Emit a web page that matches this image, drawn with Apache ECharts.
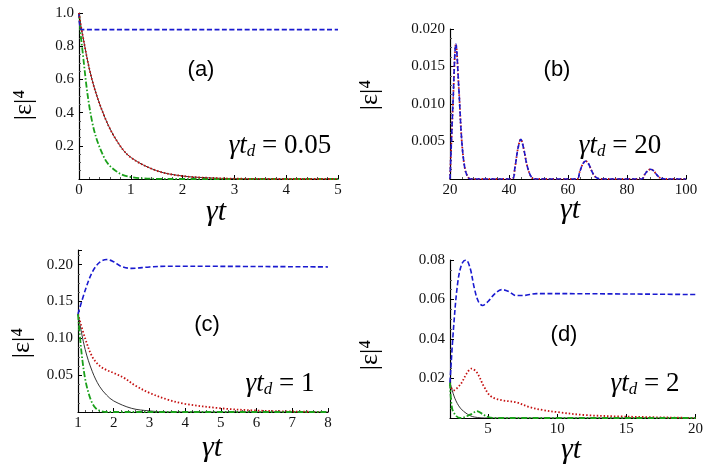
<!DOCTYPE html>
<html><head><meta charset="utf-8">
<script src="https://cdn.jsdelivr.net/npm/echarts@6/dist/echarts.min.js"></script>
<style>html,body{margin:0;background:#fff}#c{width:706px;height:470px}</style>
</head><body><div id="c"></div>
<script>
// panel (a) gamma t_d = 0.05
var aT = [0, 0.05, 0.25, 0.5, 0.75, 1, 1.5, 2, 2.5, 3, 4, 5];
var aBlack = [1, 0.9, 0.6, 0.37, 0.22, 0.13, 0.05, 0.018, 0.007, 0.002, 0, 0];
var aRed = aBlack;
var aGreen = [1, 0.82, 0.35, 0.12, 0.04, 0.012, 0.001, 0, 0, 0, 0, 0];
var aBlue = [1, 0.9, 0.9, 0.9, 0.9, 0.9, 0.9, 0.9, 0.9, 0.9, 0.9, 0.9];

// panel (b) gamma t_d = 20
var bT = [20, 21, 22, 23, 24, 25, 26, 27, 41, 42, 43, 44, 45, 46, 47, 48, 49, 63, 64, 65, 66, 67, 68, 69, 70, 71, 85, 86, 87, 88, 89, 90, 91, 92, 93, 100];
var bVal = [0, 0.01, 0.018, 0.012, 0.005, 0.0015, 0.0003, 0, 0, 0.0015, 0.004, 0.0053, 0.004, 0.002, 0.0007, 0.0001, 0, 0, 0.001, 0.002, 0.0024, 0.002, 0.0011, 0.0004, 0.0001, 0, 0, 0.0006, 0.0011, 0.0013, 0.0011, 0.0006, 0.0002, 0.00005, 0, 0];

// panel (c) gamma t_d = 1
var cBlueT = [1, 1.2, 1.4, 1.6, 1.8, 2, 2.2, 2.5, 3, 3.5, 8];
var cBlue = [0.133, 0.165, 0.19, 0.203, 0.207, 0.204, 0.198, 0.195, 0.197, 0.198, 0.197];
var cRedT = [1, 1.2, 1.4, 1.6, 1.8, 2, 2.3, 2.6, 3, 3.5, 4, 5, 6, 7, 8];
var cRed = [0.133, 0.1, 0.075, 0.063, 0.057, 0.053, 0.046, 0.036, 0.026, 0.017, 0.011, 0.005, 0.002, 0.0007, 0];
var cBlackT = [1, 1.2, 1.4, 1.6, 1.8, 2, 2.5, 3, 3.5, 8];
var cBlack = [0.133, 0.085, 0.055, 0.035, 0.023, 0.015, 0.005, 0.0015, 0, 0];
var cGreenT = [1, 1.1, 1.2, 1.3, 1.4, 1.5, 1.6, 1.8, 8];
var cGreen = [0.133, 0.08, 0.045, 0.025, 0.012, 0.005, 0.002, 0, 0];

// panel (d) gamma t_d = 2
var dBlueT = [2.25, 2.5, 2.8, 3.1, 3.4, 3.7, 4, 4.3, 4.6, 5, 5.5, 6, 6.5, 7, 7.5, 8.5, 20];
var dBlue = [0.018, 0.045, 0.068, 0.078, 0.08, 0.076, 0.066, 0.059, 0.057, 0.059, 0.063, 0.065, 0.064, 0.062, 0.062, 0.063, 0.0625];
var dRedT = [2.25, 2.5, 3, 3.5, 3.8, 4.2, 4.7, 5.2, 6, 7, 8, 9, 10, 12, 15, 20];
var dRed = [0.017, 0.014, 0.017, 0.023, 0.025, 0.023, 0.016, 0.011, 0.009, 0.008, 0.0055, 0.004, 0.003, 0.0015, 0.0007, 0];
var dBlackT = [2.25, 2.6, 3, 3.5, 4, 5, 20];
var dBlack = [0.018, 0.01, 0.005, 0.002, 0.0005, 0, 0];
var dGreenT = [2.25, 2.4, 2.7, 3, 3.8, 4.2, 4.6, 5, 5.5, 20];
var dGreen = [0.018, 0.005, 0.001, 0, 0.002, 0.0035, 0.002, 0.0005, 0, 0];

var chart = echarts.init(document.getElementById('c'));
var serif = 'Liberation Serif';

function zip(t, v) { return t.map(function (x, i) { return [x, v[i]]; }); }

var styles = {
  black: {color: '#000', width: 0.8, type: 'solid'},
  red: {color: '#c41010', width: 1.8, type: [1.5, 2]},
  green: {color: '#1aa01a', width: 1.8, type: [6, 2, 1.5, 2]},
  blue: {color: '#1a1ad0', width: 1.6, type: [5, 2.5]}
};

var grids = [
  {left: 79, right: 368, top: 13, bottom: 291},
  {left: 450, right: 20, top: 29, bottom: 291},
  {left: 78, right: 378, top: 250, bottom: 58},
  {left: 450, right: 10, top: 260, bottom: 52}
];

function xAx(i, min, max, interval, extra) {
  var ax = {
    type: 'value', gridIndex: i, min: min, max: max, interval: interval,
    axisLine: {lineStyle: {color: '#000', width: 1.2}},
    axisTick: {inside: true, length: 4, lineStyle: {color: '#000'}},
    minorTick: {show: true, splitNumber: 5, length: 2, lineStyle: {color: '#555'}},
    splitLine: {show: false},
    axisLabel: {color: '#111', fontFamily: serif, fontSize: 15, margin: 4}
  };
  return Object.assign(ax, extra || {});
}
function yAx(i, max, interval, dec) {
  return {
    type: 'value', gridIndex: i, min: 0, max: max, interval: interval,
    axisLine: {lineStyle: {color: '#000', width: 1.2}},
    axisTick: {inside: true, length: 4, lineStyle: {color: '#000'}},
    minorTick: {show: true, splitNumber: 4, length: 2, lineStyle: {color: '#555'}},
    splitLine: {show: false},
    axisLabel: {color: '#111', fontFamily: serif, fontSize: 15, margin: 5,
      formatter: function (v) {
        var k = v / interval;
        if (v === 0 || Math.abs(k - Math.round(k)) > 1e-6) return '';
        return v.toFixed(dec);
      }}
  };
}

function line(i, t, v, st, z) {
  return {
    type: 'line', xAxisIndex: i, yAxisIndex: i, data: zip(t, v), smooth: 0.35,
    showSymbol: false, silent: true, z: z || 2,
    lineStyle: {color: st.color, width: st.width, type: st.type}
  };
}

var series = [
  line(0, aT, aBlack, styles.black), line(0, aT, aRed, styles.red, 3),
  line(0, aT, aGreen, styles.green), line(0, aT, aBlue, styles.blue),
  line(1, bT, bVal, styles.red), line(1, bT, bVal, styles.blue, 3),
  line(2, cBlackT, cBlack, styles.black), line(2, cRedT, cRed, styles.red),
  line(2, cGreenT, cGreen, styles.green), line(2, cBlueT, cBlue, styles.blue),
  line(3, dBlackT, dBlack, styles.black), line(3, dRedT, dRed, styles.red),
  line(3, dGreenT, dGreen, styles.green), line(3, dBlueT, dBlue, styles.blue)
];

function txt(x, y, text, size, extra) {
  return Object.assign({type: 'text', x: x, y: y, style: Object.assign({
    text: text, fill: '#000', font: size + 'px "Liberation Sans"', align: 'center', verticalAlign: 'middle'
  }, extra || {})});
}
function ylab(x, y) {
  return {type: 'text', x: x, y: y, rotation: Math.PI / 2,
    style: {text: '|ε|⁴', fill: '#000', font: '26px "Liberation Serif"', align: 'center', verticalAlign: 'middle'}};
}
function xlab(x, y) {
  return txt(x, y, 'γt', 30, {font: 'italic 30px "Liberation Serif"'});
}
function td(x, y, val) {
  return {type: 'text', x: x, y: y, style: {
    text: '{i|γt}{s|d}{g| = ' + val + '}', align: 'center', verticalAlign: 'middle',
    rich: {
      i: {fontFamily: serif, fontSize: 27, fontStyle: 'italic', fill: '#000'},
      g: {fontFamily: serif, fontSize: 27, fill: '#000'},
      s: {fontFamily: serif, fontSize: 17, fontStyle: 'italic', fill: '#000', padding: [12, 0, 0, 0]}
    }
  }};
}

var graphic = [
  txt(201, 70, '(a)', 22), txt(557, 70, '(b)', 22), txt(207, 325, '(c)', 22), txt(564, 335, '(d)', 22),
  td(280, 146, '0.05'), td(620, 146, '20'), td(280, 384, '1'), td(645, 384, '2'),
  xlab(216, 212), xlab(570, 210), xlab(212, 448), xlab(571, 450),
  ylab(24, 105), ylab(370, 95), ylab(22, 343), ylab(370, 355)
];

chart.setOption({
  animation: false,
  grid: grids,
  xAxis: [
    xAx(0, 0, 5, 1),
    xAx(1, 20, 100, 20),
    xAx(2, 1, 8, 1),
    xAx(3, 2.25, 20, null, {
      axisLabel: {color: '#111', fontFamily: serif, fontSize: 15, margin: 4, customValues: [5, 10, 15, 20]},
      axisTick: {inside: true, length: 4, lineStyle: {color: '#000'}, customValues: [5, 10, 15, 20]},
      minorTick: {show: false}
    })
  ],
  yAxis: [yAx(0, 1, 0.2, 1), yAx(1, 0.02, 0.005, 3), yAx(2, 0.22, 0.05, 2), yAx(3, 0.08, 0.02, 2)],
  series: series,
  graphic: graphic
});
</script></body></html>
